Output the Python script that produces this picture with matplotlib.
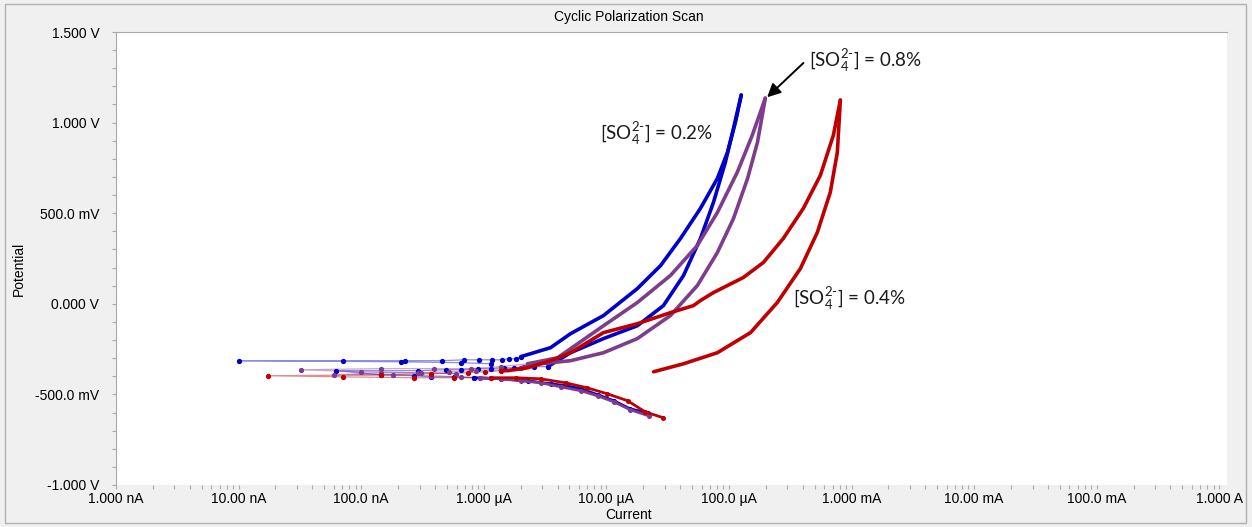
"""
Cyclic polarization scans for three sulphate concentrations
"""
import matplotlib
matplotlib.use('Agg')
import matplotlib.pyplot as plt
from matplotlib.patches import Rectangle
from matplotlib.ticker import FixedLocator, FixedFormatter, LogLocator, MultipleLocator, NullFormatter

# ---------------- data: current (A) vs potential (V) ----------------
# [SO4 2-] = 0.2 %
BLUE_CATH_I = [2.17e-5, 1.57e-5, 1.15e-5, 8.5e-6, 6.2e-6, 4.65e-6, 3.51e-6, 2.28e-6, 1.37e-6, 8.3e-7]
BLUE_CATH_E = [-0.602, -0.580, -0.535, -0.502, -0.469, -0.452, -0.441, -0.425, -0.414, -0.408]
BLUE_ECORR_I = [8.3e-7, 5.7e-7, 3.7e-7, 2.68e-7, 1.45e-7, 6.2e-8, 2.89e-7, 4.9e-7, 6.5e-7,
                8.9e-7, 1.14e-6, 1.45e-6, 1.75e-6, 2.11e-6, 2.55e-6, 3.32e-6]
BLUE_ECORR_E = [-0.408, -0.403, -0.403, -0.397, -0.392, -0.369, -0.369, -0.364, -0.364,
                -0.358, -0.358, -0.353, -0.353, -0.347, -0.347, -0.347]
BLUE_FWD_I = [3.32e-6, 5.10e-6, 9.48e-6, 1.79e-5, 2.92e-5, 4.26e-5, 5.86e-5, 7.48e-5,
              9.35e-5, 1.09e-4, 1.26e-4]
BLUE_FWD_E = [-0.347, -0.270, -0.192, -0.121, -0.010, 0.156, 0.361, 0.560,
              0.781, 0.969, 1.152]
BLUE_REV_I = [1.26e-4, 1.13e-4, 9.73e-5, 8.05e-5, 5.86e-5, 4.03e-5, 2.77e-5, 1.79e-5,
              9.48e-6, 5.10e-6, 3.51e-6, 2.0e-6]
BLUE_REV_E = [1.152, 1.002, 0.836, 0.692, 0.527, 0.361, 0.211, 0.084,
              -0.065, -0.165, -0.242, -0.292]
BLUE_TAIL_I = [2.0e-6, 1.82e-6, 1.60e-6, 1.40e-6, 1.16e-6, 9.1e-7, 6.9e-7, 4.6e-7, 2.26e-7,
               7.1e-8, 1.0e-8, 2.1e-7, 6.5e-7, 1.14e-6]
BLUE_TAIL_E = [-0.292, -0.303, -0.303, -0.309, -0.309, -0.309, -0.309, -0.314, -0.314,
               -0.314, -0.314, -0.320, -0.325, -0.331]

# [SO4 2-] = 0.8 %
PURPLE_CATH_I = [2.21e-5, 1.57e-5, 1.15e-5, 8.5e-6, 6.2e-6, 4.24e-6, 2.91e-6, 2.0e-6, 1.37e-6, 9.4e-7]
PURPLE_CATH_E = [-0.618, -0.585, -0.541, -0.508, -0.480, -0.458, -0.436, -0.425, -0.414, -0.408]
PURPLE_ECORR_I = [9.4e-7, 6.5e-7, 3.7e-7, 1.81e-7, 6.0e-8, 1.45e-7, 2.9e-7, 5.2e-7, 8.6e-7,
                  1.37e-6, 2.0e-6]
PURPLE_ECORR_E = [-0.408, -0.403, -0.397, -0.392, -0.392, -0.381, -0.381, -0.375, -0.369,
                  -0.364, -0.353]
PURPLE_FWD_I = [2.0e-6, 2.91e-6, 5.10e-6, 9.48e-6, 1.79e-5, 3.33e-5, 5.53e-5, 8.05e-5,
                1.09e-4, 1.42e-4, 1.71e-4, 1.98e-4]
PURPLE_FWD_E = [-0.353, -0.331, -0.314, -0.270, -0.192, -0.065, 0.101, 0.283,
                0.471, 0.692, 0.892, 1.135]
PURPLE_REV_I = [1.98e-4, 1.55e-4, 1.17e-4, 8.05e-5, 5.53e-5, 3.33e-5, 1.79e-5, 9.48e-6,
                5.10e-6, 4.0e-6, 2.28e-6]
PURPLE_REV_E = [1.135, 0.930, 0.726, 0.504, 0.322, 0.156, 0.007, -0.121,
                -0.248, -0.298, -0.331]
PURPLE_TAIL_I = [2.28e-6, 1.37e-6, 7.8e-7, 3.9e-7, 1.45e-7, 3.2e-8, 1.0e-7, 3.05e-7, 5.9e-7]
PURPLE_TAIL_E = [-0.331, -0.347, -0.358, -0.358, -0.358, -0.364, -0.375, -0.381, -0.386]

# [SO4 2-] = 0.4 %
RED_CATH_I = [2.92e-5, 2.08e-5, 1.49e-5, 1.02e-5, 7.0e-6, 4.65e-6, 2.91e-6, 1.82e-6, 1.14e-6]
RED_CATH_E = [-0.629, -0.597, -0.535, -0.497, -0.464, -0.436, -0.414, -0.408, -0.408]
RED_ECORR_I = [1.14e-6, 5.7e-7, 2.68e-7, 7.1e-8, 1.73e-8, 1.45e-7, 3.7e-7, 7.4e-7, 1.03e-6, 1.37e-6]
RED_ECORR_E = [-0.408, -0.408, -0.408, -0.403, -0.397, -0.392, -0.386, -0.381, -0.375, -0.369]
RED_FWD_I = [1.37e-6, 1.57e-6, 2.28e-6, 3.51e-6, 5.10e-6, 9.48e-6, 1.79e-5, 3.33e-5,
             5.14e-5, 5.86e-5, 7.48e-5, 1.31e-4, 1.91e-4, 2.78e-4, 4.05e-4, 5.57e-4,
             7.11e-4, 8.11e-4]
RED_FWD_E = [-0.369, -0.369, -0.353, -0.314, -0.270, -0.159, -0.110, -0.049,
             -0.010, 0.018, 0.062, 0.145, 0.228, 0.361, 0.527, 0.709,
             0.930, 1.124]
RED_REV_I = [8.11e-4, 7.66e-4, 6.71e-4, 5.26e-4, 3.83e-4, 2.48e-4, 1.50e-4, 8.05e-5,
             4.26e-5, 2.43e-5]
RED_REV_E = [1.124, 0.836, 0.615, 0.394, 0.195, 0.007, -0.159, -0.270, -0.331, -0.375]

X_TICKS = [1e-9, 1e-8, 1e-7, 1e-6, 1e-5, 1e-4, 1e-3, 1e-2, 1e-1, 1e0]
X_TICK_LABELS = ['1.000 nA', '10.00 nA', '100.0 nA', '1.000 µA', '10.00 µA', '100.0 µA',
                 '1.000 mA', '10.00 mA', '100.0 mA', '1.000 A']
Y_TICKS = [-1.0, -0.5, 0.0, 0.5, 1.0, 1.5]
Y_TICK_LABELS = ['-1.000 V', '-500.0 mV', '0.000 V', '500.0 mV', '1.000 V', '1.500 V']

BLUE = '#0000c8'
PURPLE = '#7d3c8c'
RED = '#c00000'

plt.rcParams['font.family'] = ['Liberation Sans', 'DejaVu Sans']
plt.rcParams['mathtext.fontset'] = 'custom'
plt.rcParams['mathtext.rm'] = 'Lato'
plt.rcParams['mathtext.it'] = 'Lato'

W, H = 1252, 527
fig = plt.figure(figsize=(W / 100, H / 100), dpi=100, facecolor='#f0f0f0')
ax = fig.add_axes([116 / W, 1 - 485 / H, (1227 - 116) / W, (485 - 32) / H])
ax.set_facecolor('white')


def draw_scan(color, cath, ecorr, fwd, rev, tail=None):
    """cathodic + noisy Ecorr region as dots, anodic loop as thick lines"""
    ax.plot(*cath, color=color, lw=2.0, marker='o', ms=2.6, zorder=3,
            solid_joinstyle='round')
    spray = [ecorr] + ([tail] if tail is not None else [])
    for xs, ys in spray:
        ax.plot(xs, ys, color=color, lw=0.9, alpha=0.45, zorder=2)
        ax.plot(xs, ys, color=color, lw=0, marker='o', ms=2.8, zorder=3)
    for xs, ys in (fwd, rev):
        ax.plot(xs, ys, color=color, lw=2.6, solid_capstyle='round',
                solid_joinstyle='round', zorder=3)


draw_scan(BLUE, (BLUE_CATH_I, BLUE_CATH_E), (BLUE_ECORR_I, BLUE_ECORR_E),
          (BLUE_FWD_I, BLUE_FWD_E), (BLUE_REV_I, BLUE_REV_E), (BLUE_TAIL_I, BLUE_TAIL_E))
draw_scan(PURPLE, (PURPLE_CATH_I, PURPLE_CATH_E), (PURPLE_ECORR_I, PURPLE_ECORR_E),
          (PURPLE_FWD_I, PURPLE_FWD_E), (PURPLE_REV_I, PURPLE_REV_E),
          (PURPLE_TAIL_I, PURPLE_TAIL_E))
draw_scan(RED, (RED_CATH_I, RED_CATH_E), (RED_ECORR_I, RED_ECORR_E),
          (RED_FWD_I, RED_FWD_E), (RED_REV_I, RED_REV_E))

ax.set_xscale('log')
ax.set_xlim(1e-9, 10 ** 0.063)
ax.set_ylim(-1.0, 1.5)

ax.xaxis.set_major_locator(FixedLocator(X_TICKS))
ax.xaxis.set_major_formatter(FixedFormatter(X_TICK_LABELS))
ax.xaxis.set_minor_locator(LogLocator(base=10, subs=range(2, 10), numticks=20))
ax.xaxis.set_minor_formatter(NullFormatter())
ax.yaxis.set_major_locator(FixedLocator(Y_TICKS))
ax.yaxis.set_major_formatter(FixedFormatter(Y_TICK_LABELS))
ax.yaxis.set_minor_locator(MultipleLocator(0.1))

ax.tick_params(which='both', direction='out', length=3, width=0.8, color='#a8a8a8',
               labelsize=10, labelcolor='black')
ax.tick_params(axis='x', which='both', pad=2)
ax.tick_params(axis='y', which='both', pad=9)

for side in ('top', 'left'):
    ax.spines[side].set_color('#a8a8a8')
for side in ('bottom', 'right'):
    ax.spines[side].set_visible(False)

fig.text(629 / W, 1 - 17 / H, 'Cyclic Polarization Scan', ha='center', va='center', fontsize=10)
fig.text(629 / W, 1 - 515 / H, 'Current', ha='center', va='center', fontsize=10)
fig.text(19 / W, 1 - 269 / H, 'Potential', ha='center', va='center', rotation=90, fontsize=10)

# concentration labels
lab_kw = dict(fontsize=13.5, family='Lato', va='baseline', ha='left', color='#1a1a1a')
ax.text(8.8e-6, 0.903, r'[SO$_4^{2\text{-}}$] = 0.2%', **lab_kw)
ax.text(3.36e-4, -0.004, r'[SO$_4^{2\text{-}}$] = 0.4%', **lab_kw)
ax.text(4.53e-4, 1.306, r'[SO$_4^{2\text{-}}$] = 0.8%', **lab_kw)
ax.annotate('', xy=(2.05e-4, 1.14), xytext=(4.05e-4, 1.329),
            arrowprops=dict(arrowstyle='-|>', color='black', lw=1.4, mutation_scale=20,
                            shrinkA=0, shrinkB=0))

fig.patches.append(Rectangle((5 / W, 4 / H), (1246 - 5) / W, (523 - 4) / H,
                             transform=fig.transFigure, fill=False,
                             edgecolor='#b0b0b0', lw=1))

fig.savefig('out.png', dpi=100, facecolor=fig.get_facecolor())
